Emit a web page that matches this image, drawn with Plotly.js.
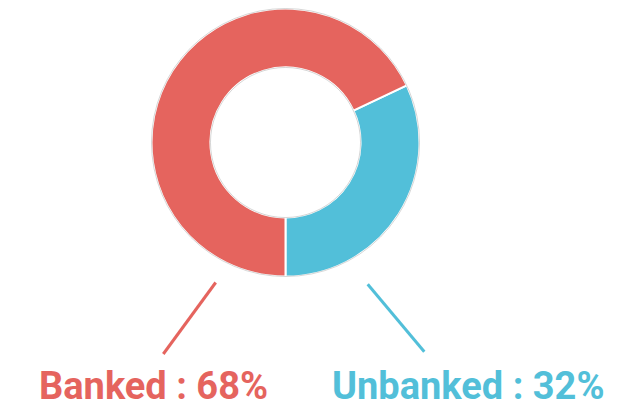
<!DOCTYPE html>
<html>
<head>
<meta charset="utf-8">
<script src="https://cdn.plot.ly/plotly-3.0.1.min.js"></script>
<style>html,body{margin:0;padding:0;background:#fff;}#chart{width:640px;height:407px;}</style>
</head>
<body>
<div id="chart"></div>
<script>
const labels = ["Unbanked", "Banked"];
const values = [32, 68];
const colors = ["#52BFD9", "#E5645E"];

const W = 640, H = 407;
const cx = 285.5, cy = 142.5, R = 134;
const px = v => v / W;
const py = v => 1 - v / H;
const total = values.reduce((a, b) => a + b, 0);

const trace = {
  type: "pie",
  labels: labels,
  values: values,
  hole: 0.56,
  sort: false,
  direction: "clockwise",
  rotation: 180 - 360 * values[0] / total,
  marker: {colors: colors, line: {color: "#ffffff", width: 2}},
  textinfo: "none",
  hoverinfo: "none",
  showlegend: false,
  domain: {x: [px(cx - R), px(cx + R)], y: [py(cy + R), py(cy - R)]}
};

const annText = labels.map((l, i) => l + " : " + values[i] + "%");

const layout = {
  width: W, height: H,
  margin: {l: 0, r: 0, t: 0, b: 0},
  paper_bgcolor: "#ffffff",
  plot_bgcolor: "#ffffff",
  shapes: [
    {type: "line", xref: "paper", yref: "paper", x0: px(215.7), y0: py(282.5), x1: px(163.3), y1: py(354), line: {color: colors[1], width: 3}},
    {type: "line", xref: "paper", yref: "paper", x0: px(367.7), y0: py(284.3), x1: px(424.3), y1: py(351.7), line: {color: colors[0], width: 3}},
    {type: "circle", xref: "paper", yref: "paper", xsizemode: "pixel", ysizemode: "pixel", xanchor: px(cx), yanchor: py(cy), x0: -R, x1: R, y0: -R, y1: R, line: {color: "rgba(120,120,120,0.3)", width: 1}, layer: "above"},
    {type: "circle", xref: "paper", yref: "paper", xsizemode: "pixel", ysizemode: "pixel", xanchor: px(cx), yanchor: py(cy), x0: -R*0.56, x1: R*0.56, y0: -R*0.56, y1: R*0.56, line: {color: "rgba(120,120,120,0.3)", width: 1}, layer: "above"}
  ],
  annotations: [
    {xref: "paper", yref: "paper", x: px(37), y: py(386), xanchor: "left", yanchor: "middle", showarrow: false, text: "<b>" + annText[1] + "</b>", font: {family: "Roboto", size: 38, color: colors[1]}},
    {xref: "paper", yref: "paper", x: px(330), y: py(386), xanchor: "left", yanchor: "middle", showarrow: false, text: "<b>" + annText[0] + "</b>", font: {family: "Roboto", size: 38, color: colors[0]}}
  ]
};

Plotly.newPlot("chart", [trace], layout, {staticPlot: true, displayModeBar: false});
</script>
</body>
</html>
